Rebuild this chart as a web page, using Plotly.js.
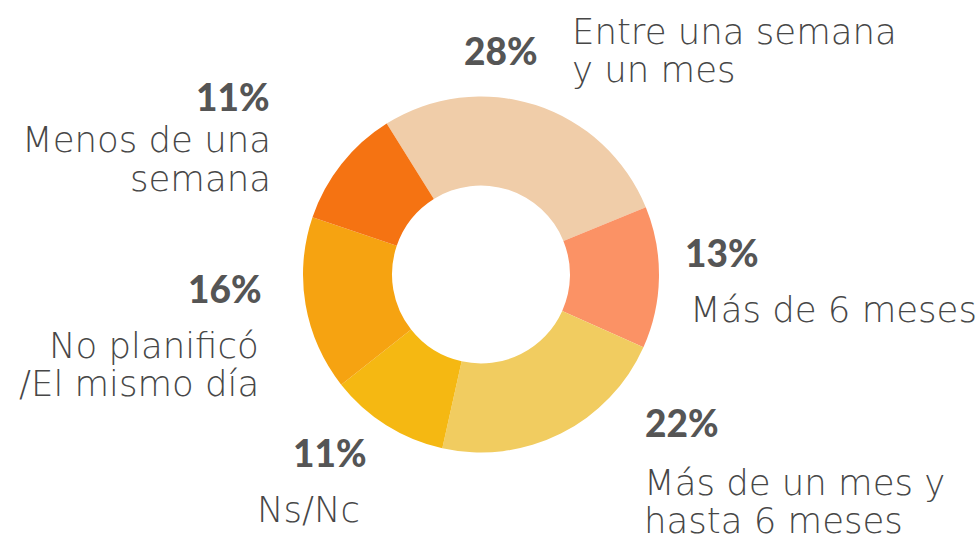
<!DOCTYPE html>
<html>
<head>
<meta charset="utf-8">
<script src="https://cdn.plot.ly/plotly-3.0.1.min.js"></script>
<style>html,body{margin:0;padding:0;background:#fff;}#chart{width:980px;height:541px;}</style>
</head>
<body>
<div id="chart"></div>
<script>
// ---- data (clockwise from the top-left boundary) ----
var categories = [
  "Entre una semana y un mes",
  "Más de 6 meses",
  "Más de un mes y hasta 6 meses",
  "Ns/Nc",
  "No planificó /El mismo día",
  "Menos de una semana"
];
var values = [28, 13, 22, 11, 16, 11];
var labelLines = [
  ["Entre una semana", "y un mes"],
  ["Más de 6 meses"],
  ["Más de un mes y", "hasta 6 meses"],
  ["Ns/Nc"],
  ["No planificó", "/El mismo día"],
  ["Menos de una", "semana"]
];

// ---- styles / layout ----
var colors = ["#F0CDA9", "#FB9265", "#F1CC60", "#F5B812", "#F6A311", "#F57312"];
var W = 980, H = 541;
var cx = 481, cy = 274.5, R = 178;

// label placement (pixels): percent anchor, label anchor, line gap
var place = [
  {pct: {x: 540, y: 50, a: "right"},  lab: {x: 570, y: 31.5, a: "left", gap: 38.5}},
  {pct: {x: 683, y: 253, a: "left"},  lab: {x: 688, y: 309, a: "left", gap: 38.5}},
  {pct: {x: 643, y: 422, a: "left"},  lab: {x: 642, y: 482, a: "left", gap: 38.5}},
  {pct: {x: 369, y: 452, a: "right"}, lab: {x: 362, y: 509, a: "right", gap: 38.5}},
  {pct: {x: 264, y: 288, a: "right"}, lab: {x: 261, y: 345, a: "right", gap: 38.5}},
  {pct: {x: 272, y: 96, a: "right"},  lab: {x: 273, y: 140, a: "right", gap: 38.5}}
];

var pctFont = {family: "Lato, 'Open Sans', sans-serif", size: 37, color: "#555555", weight: 900};
var labFont = {family: "'DejaVu Sans', sans-serif", size: 35.5, color: "#474747", weight: 300};

var annotations = [];
values.forEach(function (v, i) {
  var p = place[i];
  annotations.push({
    text: v + "%", xref: "paper", yref: "paper",
    x: p.pct.x / W, y: 1 - p.pct.y / H,
    xanchor: p.pct.a, yanchor: "middle", showarrow: false, font: pctFont
  });
  labelLines[i].forEach(function (line, j) {
    annotations.push({
      text: line, xref: "paper", yref: "paper",
      x: p.lab.x / W, y: 1 - (p.lab.y + j * p.lab.gap) / H,
      xanchor: p.lab.a, yanchor: "middle", showarrow: false, font: labFont
    });
  });
});

var trace = {
  type: "pie",
  labels: categories,
  values: values,
  sort: false,
  direction: "clockwise",
  rotation: -32,
  hole: 0.5,
  textinfo: "none",
  hoverinfo: "label+percent",
  marker: {colors: colors, line: {width: 0}},
  domain: {x: [(cx - R) / W, (cx + R) / W], y: [1 - (cy + R) / H, 1 - (cy - R) / H]},
  showlegend: false
};

var layout = {
  width: W, height: H,
  margin: {l: 0, r: 0, t: 0, b: 0},
  paper_bgcolor: "#ffffff",
  showlegend: false,
  annotations: annotations
};

Plotly.newPlot("chart", [trace], layout, {displayModeBar: false, staticPlot: true});
</script>
</body>
</html>
